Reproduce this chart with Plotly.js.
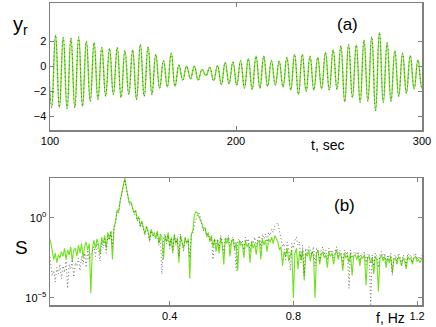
<!DOCTYPE html>
<html>
<head>
<meta charset="utf-8">
<script src="https://cdn.plot.ly/plotly-3.0.1.min.js"></script>
<style>
  html, body { margin: 0; padding: 0; background: #fff; }
  #chart { width: 436px; height: 327px; }
</style>
</head>
<body>
<div id="chart"></div>
<script>
// (a) response y_r: successive peaks/troughs (one every half period)
const tStart = 98.83;   // sec, first point (just left of the axis)
const tHalf = 2.073;    // sec between extremes
const yrExtremes = [
  2.2,
  -3.3, 2.5, -3.3, 2.3, -3.4, 2.25, -3.3, 2.35, -3.2, 2.0,
  -2.8, 1.9, -2.65, 1.5, -2.4, 1.43, -2.25, 1.5, -2.5, 1.25,
  -2.25, 1.3, -2.65, 1.75, -2.4, 1.55, -2.25, 0.95, -1.75, 0.45,
  -1.65, 1.05, -1.6, 0.1, -1.1, 0.0, -1.0, 0.0, -1.1, -0.25,
  -0.75, -0.1, -1.15, 0.05, -1.45, 0.3, -1.4, 0.35, -1.5, 0.45,
  -1.75, 0.6, -1.85, 0.8, -1.75, 0.8, -1.6, 0.45, -1.5, 0.4,
  -1.65, 0.7, -1.9, 0.95, -2.25, 0.95, -2.0, 0.8, -1.9, 0.7,
  -1.8, 1.1, -1.9, 1.3, -1.85, 1.65, -2.85, 1.75, -2.5, 1.7,
  -2.9, 2.1, -2.8, 2.35, -3.55, 2.7, -2.9, 1.9, -2.8, 1.25,
  -2.4, 1.05, -2.15, 0.85, -1.8, 0.5, -1.75,
  0.6
];

// (b) spectrum S, log10 values every 0.005 Hz starting at 0.010 Hz
const fStart = 0.010;
const fStep = 0.005;
const logS_green = [
  -1.2, -1.5, -2.0, -2.6, -2.2, -2.8, -2.3, -2.5, -2.1,
  -2.4, -1.9, -2.6, -2.0, -2.3, -1.8, -2.7, -2.0, -1.9, -2.4,
  -1.7, -2.2, -1.6, -2.5, -1.8, -1.5, -2.0, -1.6, -4.7, -1.9,
  -1.4, -1.9, -1.3, -1.7, -2.3, -1.2, -1.6, -1.1, -1.9, -0.9,
  -1.3, -0.8, -2.6, -0.6, -0.2, 0.5, 0.4, 1.1, 1.6, 2.1,
  2.5, 1.9, 1.3, 0.9, 1.0, 0.6, 0.3, 0.5, -0.1, 0.1,
  -0.5, -0.2, -0.6, -1.0, -0.5, -0.8, -1.4, -0.7, -1.1, -0.9,
  -1.3, -0.8, -1.6, -1.0, -1.2, -2.6, -1.1, -1.5, -0.9, -1.8,
  -1.2, -2.2, -1.0, -1.6, -1.3, -2.8, -1.1, -1.5, -1.9, -1.2,
  -1.6, -1.3, -3.8, -1.0, -0.8, 0.2, 0.4, 0.3, 0.1, -0.2,
  -0.4, -0.7, -0.6, -1.2, -0.9, -1.5, -1.1, -1.8, -1.3, -2.1,
  -1.4, -2.2, -1.2, -1.7, -2.9, -1.3, -1.6, -1.2, -2.4, -1.5,
  -1.3, -2.0, -1.5, -3.3, -1.4, -1.7, -1.6, -2.5, -1.4, -1.8,
  -1.6, -2.8, -1.5, -1.9, -1.6, -2.3, -1.5, -1.4, -2.6, -1.3,
  -1.7, -1.4, -2.1, -1.3, -1.5, -1.2, -1.6, -1.1, -1.3, -1.5,
  -2.0, -1.8, -3.0, -2.1, -2.4, -1.9, -2.7, -2.3, -2.0, -5.0,
  -2.2, -1.9, -3.2, -2.1, -2.6, -2.0, -3.9, -2.2, -2.4, -2.0,
  -2.7, -2.1, -2.3, -5.0, -2.2, -2.0, -2.9, -2.3, -2.1, -2.5,
  -2.3, -3.1, -2.1, -2.4, -2.2, -2.9, -2.3, -2.0, -2.6, -2.2,
  -2.4, -3.3, -2.2, -2.5, -2.3, -2.8, -2.2, -3.6, -2.4, -2.3,
  -2.6, -2.3, -3.0, -2.4, -2.5, -2.3, -4.2, -2.5, -2.4, -2.8,
  -2.5, -3.5, -2.4, -2.6, -4.6, -2.5, -2.3, -2.7, -2.4, -3.1,
  -2.5, -2.8, -2.4, -3.4, -2.6, -2.5, -2.9, -2.4, -2.6, -3.0,
  -2.5, -2.7, -3.2, -2.4, -2.6, -2.5, -2.9, -2.5, -2.4, -2.7,
  -2.6, -2.8, -2.5
];
const logS_black = [
  -2.0, -2.8, -3.6, -3.3, -4.0, -3.1, -3.5, -2.9, -3.8,
  -3.0, -3.4, -2.7, -4.4, -2.9, -3.2, -2.6, -3.7, -2.8, -3.0,
  -2.5, -3.3, -2.4, -2.9, -2.2, -3.1, -2.0, -2.6, -2.3, -2.1,
  -1.8, -2.4, -1.6, -2.1, -2.7, -1.5, -1.9, -1.3, -2.2, -1.1,
  -1.4, -0.9, -1.8, -0.7, -0.3, 0.4, 0.3, 1.0, 1.5, 2.0,
  2.4, 1.8, 1.2, 0.8, 0.9, 0.5, 0.2, 0.4, -0.2, 0.0,
  -0.6, -0.3, -0.7, -1.1, -0.6, -0.9, -1.5, -0.8, -1.0, -1.2,
  -1.1, -0.9, -1.7, -1.2, -3.5, -1.3, -1.0, -1.6, -1.1, -1.9,
  -1.3, -2.0, -1.1, -1.7, -1.2, -2.4, -1.0, -1.6, -2.1, -1.3,
  -1.5, -1.4, -2.5, -1.1, -0.9, -0.4, -0.1, 0.2, 0.3, 0.0,
  -0.5, -0.8, -0.7, -1.1, -1.0, -1.4, -1.2, -2.6, -1.3, -1.6,
  -1.3, -1.9, -1.1, -1.5, -2.2, -1.2, -1.4, -1.1, -1.8, -1.3,
  -1.2, -1.7, -3.3, -1.4, -1.3, -1.6, -1.4, -2.0, -1.2, -1.5,
  -1.3, -2.1, -1.4, -1.6, -1.2, -1.8, -1.3, -1.1, -1.9, -1.0,
  -1.3, -1.0, -1.5, -0.9, -1.1, -0.7, -0.9, -0.5, -0.4, -0.3,
  -0.8, -1.4, -1.8, -1.6, -2.6, -1.5, -1.9, -3.3, -1.6, -1.9,
  -1.4, -1.2, -1.7, -1.5, -2.8, -1.7, -3.6, -1.9, -2.2, -1.8,
  -2.0, -2.4, -1.8, -3.0, -1.9, -2.1, -2.7, -2.0, -1.8, -2.3,
  -2.0, -2.6, -1.9, -2.2, -2.0, -2.5, -2.1, -1.8, -2.4, -2.0,
  -2.2, -2.9, -2.0, -2.3, -2.1, -4.4, -2.0, -2.5, -2.2, -2.1,
  -2.3, -2.1, -2.7, -2.2, -2.3, -2.1, -2.9, -2.3, -2.2, -5.4,
  -2.3, -3.0, -2.2, -2.4, -3.1, -2.3, -2.1, -2.5, -2.2, -2.8,
  -2.3, -2.6, -2.2, -3.6, -2.4, -2.3, -2.7, -2.2, -2.4, -2.9,
  -2.3, -2.5, -3.0, -2.2, -2.4, -2.3, -2.8, -2.3, -2.2, -2.6,
  -2.4, -2.6, -2.3
];

const topTicks = [-4, -2, 0, 2];
const topXTicks = [100, 200, 300];
const botXTicks = [0.4, 0.8, 1.2];
const botYTicks = [1, 1e-5];
const botYLabels = ['10<sup>0</sup>', '10<sup>\u22125</sup>'];

const green = '#6ee21a';
const dark = '#4a4a4a';
const font = 'Liberation Sans, Arial, sans-serif';

const sGreen = logS_green.map(v => Math.pow(10, v));
const sBlack = logS_black.map(v => Math.pow(10, v));

const data = [
  { y: yrExtremes, x0: tStart, dx: tHalf, xaxis: 'x', yaxis: 'y', mode: 'lines',
    line: { color: green, width: 1.4, shape: 'spline', smoothing: 1.3 }, hoverinfo: 'none' },
  { y: yrExtremes, x0: tStart, dx: tHalf, xaxis: 'x', yaxis: 'y', mode: 'lines',
    line: { color: dark, width: 0.8, dash: '1px,3px', shape: 'spline', smoothing: 1.3 }, hoverinfo: 'none' },
  { y: sGreen, x0: fStart, dx: fStep, xaxis: 'x2', yaxis: 'y2', mode: 'lines',
    line: { color: green, width: 1.1 }, hoverinfo: 'none' },
  { y: sBlack, x0: fStart, dx: fStep, xaxis: 'x2', yaxis: 'y2', mode: 'lines',
    line: { color: dark, width: 0.8, dash: '1px,2.5px' }, hoverinfo: 'none' }
];

const axisBase = {
  showline: true, mirror: 'ticks', linecolor: '#808080', linewidth: 1.5,
  ticks: 'inside', ticklen: 4, tickcolor: '#808080', showgrid: false, zeroline: false,
  tickfont: { family: font, size: 11, color: '#000' }
};

const layout = {
  width: 436, height: 327,
  margin: { l: 50, r: 14, t: 3, b: 22 },
  paper_bgcolor: '#fff', plot_bgcolor: '#fff',
  showlegend: false,
  xaxis: Object.assign({}, axisBase, { domain: [0, 1], range: [100, 300], tickvals: topXTicks, anchor: 'y' }),
  yaxis: Object.assign({}, axisBase, { domain: [0.579, 1], range: [-5.1, 5.05], tickvals: topTicks, anchor: 'x' }),
  xaxis2: Object.assign({}, axisBase, { domain: [0, 1], range: [0.013, 1.216], tickvals: botXTicks,
    ticktext: ['0.4', '0.8', '1.2'], anchor: 'y2' }),
  yaxis2: Object.assign({}, axisBase, { domain: [0, 0.4205], type: 'log', range: [-5.44, 2.5],
    tickvals: botYTicks, ticktext: botYLabels, anchor: 'x2' }),
  annotations: [
    { text: 'y<sub>r</sub>', xref: 'paper', yref: 'paper', x: -0.105, y: 0.925, showarrow: false,
      xanchor: 'left', yanchor: 'middle', font: { family: font, size: 20, color: '#000' } },
    { text: '(a)', xref: 'x', yref: 'y', x: 260, y: 3.3, showarrow: false, xanchor: 'center',
      yanchor: 'middle', font: { family: font, size: 17, color: '#000' } },
    { text: 't, sec', xref: 'x', yref: 'paper', x: 249, y: 0.53, showarrow: false, xanchor: 'center',
      yanchor: 'middle', font: { family: font, size: 14, color: '#000' } },
    { text: 'S', xref: 'paper', yref: 'paper', x: -0.1, y: 0.192, showarrow: false,
      xanchor: 'left', yanchor: 'middle', font: { family: font, size: 19, color: '#000' } },
    { text: '(b)', xref: 'x2', yref: 'paper', x: 0.965, y: 0.33, showarrow: false, xanchor: 'center',
      yanchor: 'middle', font: { family: font, size: 17, color: '#000' } },
    { text: 'f, Hz', xref: 'x2', yref: 'paper', x: 1.115, y: -0.043, showarrow: false, xanchor: 'center',
      yanchor: 'middle', font: { family: font, size: 14, color: '#000' } }
  ]
};

Plotly.newPlot('chart', data, layout, { staticPlot: true });
</script>
</body>
</html>
